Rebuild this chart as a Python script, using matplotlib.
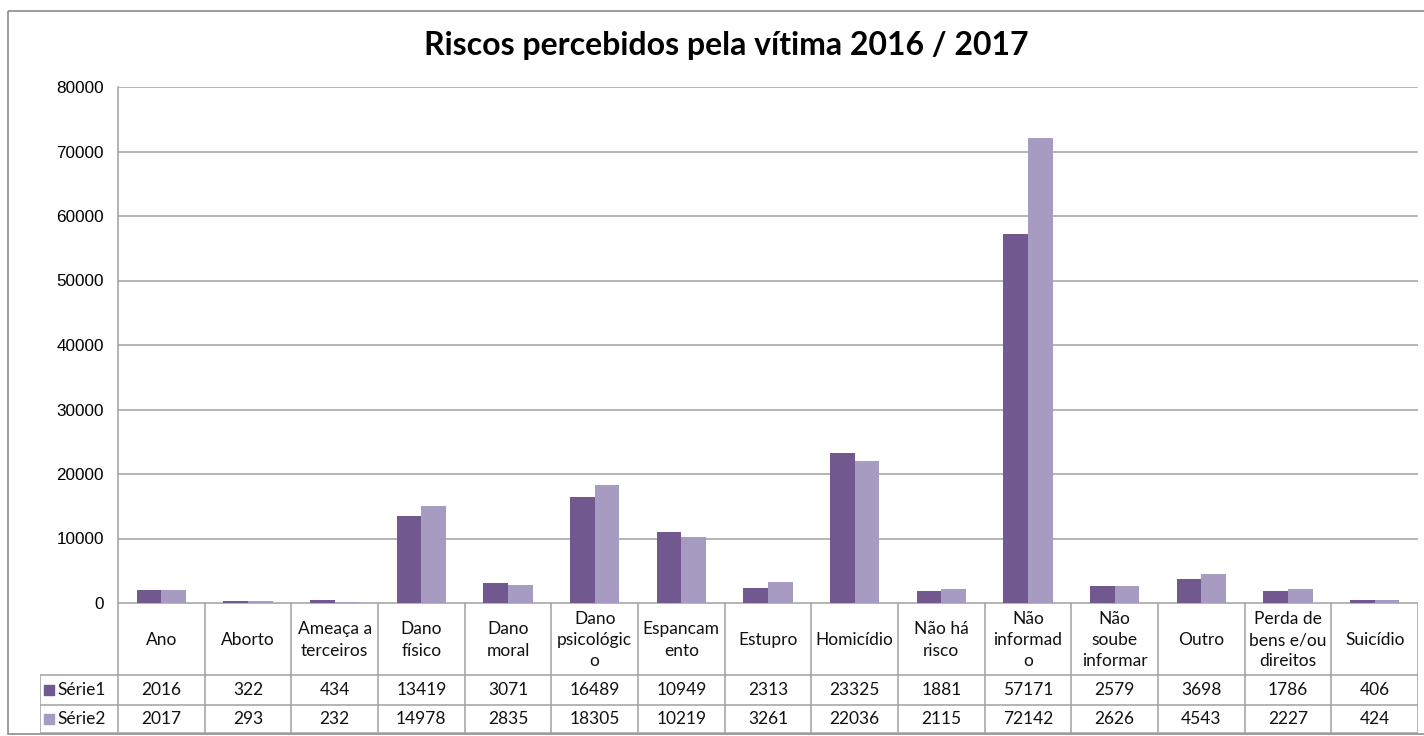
import matplotlib
matplotlib.use("Agg")
import matplotlib.pyplot as plt
from matplotlib.patches import Rectangle

categorias = ["Ano", "Aborto", "Ameaça a\nterceiros", "Dano\nfísico", "Dano\nmoral",
              "Dano\npsicológic\no", "Espancam\nento", "Estupro", "Homicídio",
              "Não há\nrisco", "Não\ninformad\no", "Não\nsoube\ninformar", "Outro",
              "Perda de\nbens e/ou\ndireitos", "Suicídio"]
serie1 = [2016, 322, 434, 13419, 3071, 16489, 10949, 2313, 23325, 1881, 57171, 2579, 3698, 1786, 406]
serie2 = [2017, 293, 232, 14978, 2835, 18305, 10219, 3261, 22036, 2115, 72142, 2626, 4543, 2227, 424]
nomes_series = ["Série1", "Série2"]
yticks = list(range(0, 80001, 10000))

cor1 = "#71598f"
cor2 = "#a89bc2"
cinza = "#a0a0a0"

W, H = 1424, 736
fig = plt.figure(figsize=(W / 100, H / 100), dpi=100)

def fx(px):
    return px / W

def fy(py):
    return 1 - py / H

# outer frame of the chart
borda = fig.add_axes([0, 0, 1, 1])
borda.set_xlim(0, W)
borda.set_ylim(H, 0)
borda.axis("off")
borda.add_patch(Rectangle((8, 11), W + 20, H - 13, fill=False, ec="#8c8c8c", lw=1.2))

fig.text(fx(726), fy(46), "Riscos percebidos pela vítima 2016 / 2017",
         ha="center", va="center", fontsize=23, fontweight="bold", family="Lato")

# bar plot area
left, right, top, bottom = 118, 1418, 87, 603
ax = fig.add_axes([fx(left), fy(bottom), fx(right - left), (bottom - top) / H])
n = len(categorias)
x = list(range(n))
w = 0.283
ax.bar([i - w / 2 for i in x], serie1, width=w, color=cor1, zorder=3)
ax.bar([i + w / 2 for i in x], serie2, width=w, color=cor2, zorder=3)
ax.set_xlim(-0.5, n - 0.5)
ax.set_ylim(0, 80000)
ax.set_yticks(yticks)
ax.set_yticklabels([str(v) for v in yticks], family="Liberation Sans", fontsize=12.3)
ax.set_xticks([])
ax.tick_params(axis="y", length=0, pad=10)
ax.grid(axis="y", color=cinza, lw=1.1, zorder=0)
for s in ["top", "right", "bottom"]:
    ax.spines[s].set_visible(False)
ax.spines["left"].set_color(cinza)
ax.spines["left"].set_linewidth(1.1)

# data table below the bars
col_w = (right - left) / n
leg_left = 40
row_y = [603, 675, 705, 733]
tab = fig.add_axes([fx(leg_left), fy(row_y[-1]), fx(right - leg_left), (row_y[-1] - row_y[0]) / H])
tab.set_xlim(-0.5 - (left - leg_left) / col_w, n - 0.5)
tab.set_ylim(row_y[-1], row_y[0])
tab.axis("off")
x0 = -0.5 - (left - leg_left) / col_w
lk = dict(color=cinza, lw=1.1, solid_capstyle="butt")
tab.plot([-0.5, n - 0.5], [row_y[0], row_y[0]], **lk)
for yy in row_y[1:]:
    tab.plot([x0, n - 0.5], [yy, yy], **lk)
tab.plot([x0, x0], [row_y[1], row_y[-1]], **lk)
for i in range(n + 1):
    tab.plot([i - 0.5, i - 0.5], [row_y[0], row_y[-1]], **lk)

fonte = dict(family="Lato", fontsize=12.5, color="#111111")
for i, cat in enumerate(categorias):
    tab.text(i, (row_y[0] + row_y[1]) / 2 + 1, cat, ha="center", va="center",
             linespacing=1.4, **fonte)
for r, (vals, nome, cor) in enumerate([(serie1, nomes_series[0], cor1),
                                       (serie2, nomes_series[1], cor2)]):
    yc = (row_y[r + 1] + row_y[r + 2]) / 2
    for i, v in enumerate(vals):
        tab.text(i, yc, str(v), ha="center", va="center", **fonte)
    tab.scatter([x0 + 0.1], [yc], marker="s", s=48, color=cor)
    tab.text(x0 + 0.2, yc, nome, ha="left", va="center", **fonte)

fig.savefig("out.png", dpi=100)
